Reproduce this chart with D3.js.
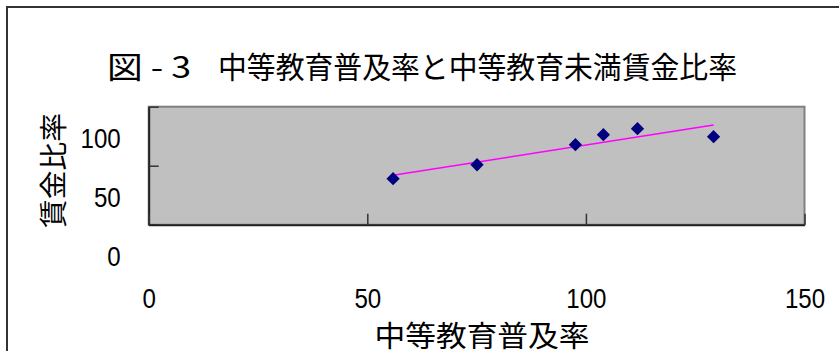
<!DOCTYPE html>
<html>
<head>
<meta charset="utf-8">
<script src="https://cdn.jsdelivr.net/npm/d3@7"></script>
<style>
  body { margin: 0; background: #fff; }
  text { font-family: "Liberation Sans", Arial, sans-serif; fill: #000; }
  .jp { font-family: "Noto Sans CJK JP", sans-serif; }
</style>
</head>
<body>
<svg id="chart" width="839" height="351"></svg>
<script>
// data
var enrolment = [55.9, 75.1, 97.6, 104.0, 111.8, 129.2];   // 中等教育普及率
var wageRatio = [39.0, 50.8, 67.8, 76.3, 81.4, 74.6];      // 賃金比率
var xTicks = [0, 50, 100, 150];
var yTicks = [0, 50, 100];
var titleA = "図 - 3";
var titleB = "中等教育普及率と中等教育未満賃金比率";
var xTitle = "中等教育普及率";
var yTitle = "賃金比率";

var data = enrolment.map(function(v, i) { return {x: v, y: wageRatio[i]}; });

var svg = d3.select("#chart");
var width = 839, height = 351;

svg.append("rect").attr("width", width).attr("height", height).attr("fill", "#fff");

// outer chart frame (runs off the right / bottom edge)
svg.append("rect")
    .attr("x", 7).attr("y", 7)
    .attr("width", 850).attr("height", 360)
    .attr("fill", "none")
    .attr("stroke", "#333")
    .attr("stroke-width", 2);

var x = d3.scaleLinear()
    .domain([0, 150])
    .range([148.7, 804.5]);

var y = d3.scaleLinear()
    .domain([0, 100])
    .range([224.7, 106.7]);

// plot area
svg.append("rect")
    .attr("x", x(0)).attr("y", y(100))
    .attr("width", x(150) - x(0)).attr("height", y(0) - y(100))
    .attr("fill", "#c0c0c0")
    .attr("stroke", "#808080")
    .attr("stroke-width", 2);

// y axis, ticks inside, labels sit low like the original
var yAxis = svg.append("g")
    .attr("transform", "translate(" + x(0) + ",0)")
    .call(d3.axisLeft(y).tickValues(yTicks).tickSize(-10).tickSizeOuter(0).tickPadding(28));
yAxis.select(".domain").attr("stroke", "#222").attr("stroke-width", 2);
yAxis.selectAll(".tick line").attr("stroke", "#333").attr("stroke-width", 1.5);
yAxis.selectAll(".tick text")
    .attr("y", 31.5)
    .attr("dy", "0.35em")
    .style("font-size", "28px")
    .attr("textLength", function(d) { return String(d).length * 13.4; })
    .attr("lengthAdjust", "spacingAndGlyphs");

// x axis
var xAxis = svg.append("g")
    .attr("transform", "translate(0," + y(0) + ")")
    .call(d3.axisBottom(x).tickValues(xTicks).tickSize(-11).tickSizeOuter(0).tickPadding(63));
xAxis.select(".domain").attr("stroke", "#222").attr("stroke-width", 2);
xAxis.selectAll(".tick line").attr("stroke", "#333").attr("stroke-width", 1.5);
xAxis.selectAll(".tick text")
    .attr("dy", "0.71em")
    .style("font-size", "28px")
    .attr("textLength", function(d) { return String(d).length * 13.4; })
    .attr("lengthAdjust", "spacingAndGlyphs");

// linear trend line (least squares on the points)
var mx = d3.mean(data, function(d) { return d.x; });
var my = d3.mean(data, function(d) { return d.y; });
var slope = d3.sum(data, function(d) { return (d.x - mx) * (d.y - my); }) /
            d3.sum(data, function(d) { return (d.x - mx) * (d.x - mx); });
var x0 = d3.min(data, function(d) { return d.x; }), x1 = d3.max(data, function(d) { return d.x; });
var trend = [{x: x0, y: my + slope * (x0 - mx)}, {x: x1, y: my + slope * (x1 - mx)}];

svg.append("path")
    .datum(trend)
    .attr("d", d3.line().x(function(d) { return x(d.x); }).y(function(d) { return y(d.y); }))
    .attr("fill", "none")
    .attr("stroke", "#ff00ff")
    .attr("stroke-width", 1.5);

// diamond markers
svg.selectAll(".pt")
  .data(data)
  .enter().append("path")
    .attr("class", "pt")
    .attr("d", d3.symbol(d3.symbolSquare, 88))
    .attr("transform", function(d) { return "translate(" + x(d.x) + "," + y(d.y) + ") rotate(45)"; })
    .attr("fill", "#000080");

// titles
var t = svg.append("text").attr("class", "jp").style("font-size", "30px").attr("y", 78);
t.append("tspan").attr("x", 107).attr("textLength", 84).attr("lengthAdjust", "spacingAndGlyphs").text(titleA);
t.append("tspan").attr("x", 218).attr("textLength", 519).attr("lengthAdjust", "spacingAndGlyphs").text(titleB);

svg.append("text")
    .attr("class", "jp")
    .attr("x", 482).attr("y", 347)
    .attr("text-anchor", "middle")
    .style("font-size", "29px")
    .attr("textLength", 215)
    .attr("lengthAdjust", "spacingAndGlyphs")
    .text(xTitle);

svg.append("text")
    .attr("class", "jp")
    .attr("transform", "translate(64,170.5) rotate(-90)")
    .attr("text-anchor", "middle")
    .style("font-size", "28px")
    .attr("textLength", 115)
    .attr("lengthAdjust", "spacingAndGlyphs")
    .text(yTitle);
</script>
</body>
</html>
